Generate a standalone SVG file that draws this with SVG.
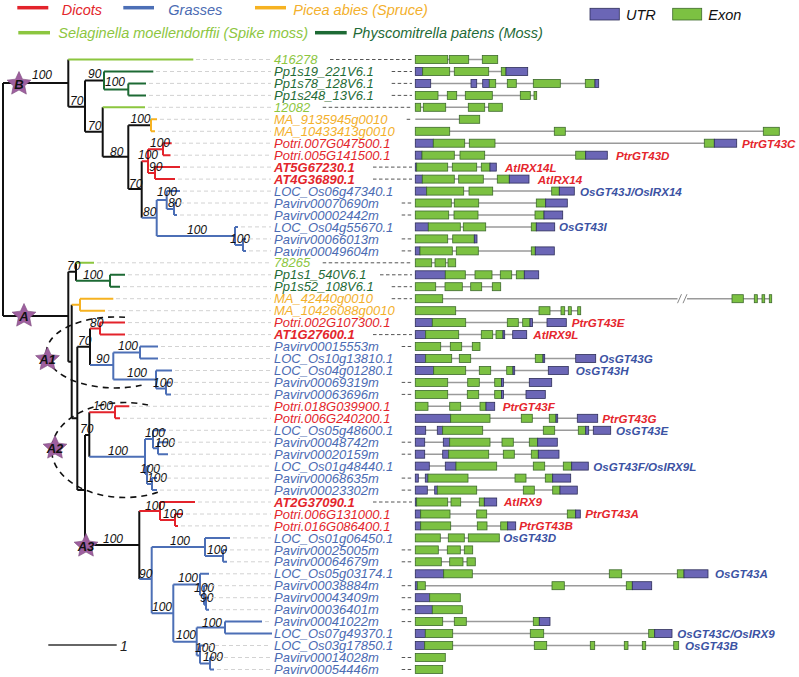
<svg xmlns="http://www.w3.org/2000/svg" width="799" height="677" viewBox="0 0 799 677">
<style>
text{font-family:"Liberation Sans",Arial,sans-serif;font-style:italic}
.t{font-size:13px}
.bd{font-weight:bold}
.bs{font-size:12px;fill:#111}
.lgd{font-size:14.5px}
.gl{font-size:11.6px;font-weight:bold}
.cl{fill:#8dc63f}.cd{fill:#1f6b37}.co{fill:#f3b02c}.cr{fill:#e3262c}.cb{fill:#4b6bb3}
.gr{fill:#e5262d}.gb{fill:#3b52a3}
.e{fill:#7cc142;stroke:#3d6a2c;stroke-width:0.8}
.u{fill:#6b66b6;stroke:#2e2e5a;stroke-width:0.8}
.in{stroke:#9a9a9a;stroke-width:1.5}
.ld{stroke:#d2d2d2;stroke-width:1;stroke-dasharray:4 3}
.dd{stroke:#555;stroke-width:1;stroke-dasharray:3.5 2.5}
.tr{fill:none;stroke-width:2}
.k{stroke:#111}.r{stroke:#e3232b}.b{stroke:#4c6fb6}.o{stroke:#f6b221}.lg{stroke:#8cc63f}.dg{stroke:#1d6a34}
.el{fill:none;stroke:#111;stroke-width:1.6;stroke-dasharray:6 5}
.star{fill:#9e5f9f;stroke:#7a4a7a;stroke-width:0.6}
.sl{font-size:13px;font-weight:bold;fill:#111;text-anchor:middle}
</style>
<defs>
<path id="st" d="M0,-12.5 L3.53,-4.85 L11.89,-3.86 L5.71,1.85 L7.35,10.11 L0,6 L-7.35,10.11 L-5.71,1.85 L-11.89,-3.86 L-3.53,-4.85 Z"/>
</defs>
<rect width="799" height="677" fill="#fff"/>

<g id="legend">
<line x1="17.3" y1="7.7" x2="48.3" y2="7.7" stroke="#e3232b" stroke-width="3.5"/>
<text class="lgd cr" x="61.7" y="14.5">Dicots</text>
<line x1="123.3" y1="7.7" x2="154" y2="7.7" stroke="#4c6fb6" stroke-width="3.5"/>
<text class="lgd cb" x="168.3" y="14.5">Grasses</text>
<line x1="255" y1="7.7" x2="286" y2="7.7" stroke="#f6b221" stroke-width="3.5"/>
<text class="lgd co" x="293.3" y="14.5">Picea abies (Spruce)</text>
<line x1="18.3" y1="32.7" x2="50" y2="32.7" stroke="#8cc63f" stroke-width="3.5"/>
<text class="lgd cl" x="58.3" y="38">Selaginella moellendorffii (Spike moss)</text>
<line x1="315" y1="32.7" x2="346.7" y2="32.7" stroke="#1d6a34" stroke-width="3.5"/>
<text class="lgd cd" x="352.7" y="38">Physcomitrella patens (Moss)</text>
<rect class="u" x="590" y="8.3" width="29.3" height="11.7"/>
<text class="lgd" x="626" y="19.5" fill="#111">UTR</text>
<rect class="e" x="672.7" y="8.3" width="29" height="11.7"/>
<text class="lgd" x="708.3" y="19.5" fill="#111">Exon</text>
</g>

<g id="connectors">
<path class="tr k" d="M3,83.1V316 M3,83.1H68.3 M68.3,59.5V106.7 M68.3,106.7H85 M85,80.5V131.7 M85,80.5H104 M85,131.7H102.7 M102.7,107.3V156.7 M102.7,156.7H128.3 M128.3,125.3V189 M128.3,125.3H151 M128.3,189H141.7 M141.7,161.2V217.7 M3,316H68.3 M68.3,271.7V361.7 M68.3,271.7H76 M76,262.8V280.7 M68.3,361.7H71.7 M71.7,304.7V418.3 M71.7,418.3H77.3 M77.3,346.7V490 M77.3,346.7H90 M90,328.6V365 M77.3,490H85 M85,435V545 M85,435H89.3 M89.3,412.3V456.7 M85,545H139.3 M139.3,511V579"/>
<path class="tr lg" d="M68.3,59.5H193.3 M102.7,107.3H145 M76,262.8H94"/>
<path class="tr dg" d="M104,71.5V89.4 M104,71.5H153.3 M104,89.4H128.3 M128.3,83.4V95.4 M128.3,83.4H146 M128.3,95.4H146 M76,280.7H110 M110,274.8V286.7 M110,274.8H125 M110,286.7H120"/>
<path class="tr o" d="M151,119.3V131.3 M151,119.3H157 M151,131.3H155 M71.7,304.7H80 M80,298.7V310.7 M80,298.7H113.3 M80,310.7H105"/>
<path class="tr r" d="M141.7,161.2H148 M148,149.2V173.1 M148,149.2H163 M163,143.2V155.2 M163,143.2H171.7 M163,155.2H170.5 M148,173.1H155 M155,167.1V179.1 M155,167.1H180 M155,179.1H175 M90,328.6H100 M100,322.6V334.6 M100,322.6H125 M100,334.6H125 M89.3,412.3H115 M115,406.3V418.3 M115,406.3H129.3 M115,418.3H120 M139.3,511H160 M160,502V520 M160,502H195 M160,520H175 M175,514V525.9 M175,514H183 M175,525.9H178"/>
<path class="tr b" d="M141.7,217.7H156.7 M156.7,200V235.9 M156.7,200H166.7 M166.7,191.1V209 M166.7,191.1H180 M166.7,209H174 M174,203V215 M174,203H177 M174,215H177 M156.7,235.9H235 M235,226.9V244.9 M235,226.9H238 M235,244.9H243 M243,238.9V250.9 M243,238.9H246 M243,250.9H246 M90,365H113.3 M113.3,352.5V379.4 M113.3,352.5H140 M140,346.5V358.5 M140,346.5H158 M140,358.5H158 M113.3,379.4H156 M156,370.5V388.4 M156,370.5H172 M156,388.4H166 M166,382.4V394.4 M166,382.4H171 M166,394.4H171 M89.3,456.7H145 M145,439V474 M145,439H153 M153,430.3V448.2 M153,430.3H166 M153,448.2H158 M158,442.2V454.2 M158,442.2H168 M158,454.2H168 M145,474H147 M147,466.1V484.1 M147,466.1H150 M147,484.1H152 M152,478.1V490.1 M152,478.1H157 M152,490.1H157 M139.3,579H151.7 M151.7,546.9V613.3 M151.7,546.9H205 M205,537.9V555.9 M205,537.9H230 M205,555.9H223 M223,549.9V561.8 M223,549.9H227 M223,561.8H227 M151.7,613.3H173.3 M173.3,584.5V641.7 M173.3,584.5H200 M200,573.8V595.2 M200,573.8H209 M200,595.2H204 M204,585.7V604.7 M204,585.7H208 M204,604.7H206 M206,597.7V609.7 M206,597.7H209 M206,609.7H209 M173.3,641.7H196.7 M196.7,627.6V655.6 M196.7,627.6H225 M225,621.6V633.6 M225,621.6H262 M225,633.6H272 M196.7,655.6H200 M200,645.5V663.5 M200,645.5H205 M200,663.5H210 M210,657.5V669.5 M210,657.5H214 M210,669.5H214"/>
<path class="el" d="M125,317.3 A69,35.5 0 1 0 142,385.2"/>
<path class="el" d="M148,405 A73,47.5 0 1 0 160,491.6"/>
</g>

<g id="bootstrap">
<text class="bs" x="32" y="79">100</text>
<text class="bs" x="88" y="78">90</text>
<text class="bs" x="105" y="86">100</text>
<text class="bs" x="70" y="104.5">70</text>
<text class="bs" x="88" y="129.5">70</text>
<text class="bs" x="130.5" y="122.5">100</text>
<text class="bs" x="110" y="155.5">80</text>
<text class="bs" x="150" y="146.5">100</text>
<text class="bs" x="138" y="159">100</text>
<text class="bs" x="149" y="171">90</text>
<text class="bs" x="129" y="188">70</text>
<text class="bs" x="157" y="196">100</text>
<text class="bs" x="168" y="206.5">80</text>
<text class="bs" x="143" y="216">80</text>
<text class="bs" x="187" y="233.5">100</text>
<text class="bs" x="230" y="243">100</text>
<text class="bs" x="67" y="270">70</text>
<text class="bs" x="83" y="278.5">100</text>
<text class="bs" x="90" y="326.5">80</text>
<text class="bs" x="78" y="345">70</text>
<text class="bs" x="118" y="350">100</text>
<text class="bs" x="96" y="363">90</text>
<text class="bs" x="127" y="377">100</text>
<text class="bs" x="153" y="386.5">100</text>
<text class="bs" x="93" y="409.5">100</text>
<text class="bs" x="80" y="432.5">70</text>
<text class="bs" x="145" y="436.5">100</text>
<text class="bs" x="155" y="446.5">100</text>
<text class="bs" x="108" y="454.5">100</text>
<text class="bs" x="140" y="472.5">100</text>
<text class="bs" x="147" y="481.5">100</text>
<text class="bs" x="145" y="509.5">100</text>
<text class="bs" x="163" y="517.5">100</text>
<text class="bs" x="103" y="542.5">100</text>
<text class="bs" x="170" y="544.5">100</text>
<text class="bs" x="207" y="554">100</text>
<text class="bs" x="139" y="577.5">90</text>
<text class="bs" x="178" y="582">100</text>
<text class="bs" x="194" y="591.5">100</text>
<text class="bs" x="200" y="601.5">90</text>
<text class="bs" x="152" y="610.5">100</text>
<text class="bs" x="202" y="626.5">100</text>
<text class="bs" x="176" y="639">100</text>
<text class="bs" x="195" y="651.5">100</text>
<text class="bs" x="203" y="661">100</text>
</g>

<g id="scale">
<line x1="48.3" y1="645" x2="116.7" y2="645" stroke="#333" stroke-width="1.5"/>
<text x="120" y="650.5" font-size="14" fill="#222">1</text>
</g>

<g id="star-B"><use href="#st" class="star" transform="translate(19,84)"/><text class="sl" x="19" y="88.5">B</text></g>
<g id="star-A"><use href="#st" class="star" transform="translate(24,316)"/><text class="sl" x="24" y="320.5">A</text></g>
<g id="star-A1"><use href="#st" class="star" transform="translate(47.5,359.5)"/><text class="sl" x="47.5" y="364">A1</text></g>
<g id="star-A2"><use href="#st" class="star" transform="translate(55,448)"/><text class="sl" x="55" y="452.5">A2</text></g>
<g id="star-A3"><use href="#st" class="star" transform="translate(86,546)"/><text class="sl" x="86" y="550.5">A3</text></g>

<g id="n1" transform="translate(0,59.5)"><line class="ld" x1="196" x2="271"/><text class="t cl" x="274" y="4.6">416278</text><line class="dd" x1="330" x2="412"/><line class="in" x1="415.3" x2="497.7"/><rect class="e" x="415.3" y="-4" width="32.4" height="8"/><rect class="e" x="449.3" y="-4" width="19.4" height="8"/><rect class="e" x="482.3" y="-4" width="15.4" height="8"/></g>
<g id="n2" transform="translate(0,71.5)"><line class="ld" x1="156" x2="271"/><text class="t cd" x="274" y="4.6">Pp1s19_221V6.1</text><line class="dd" x1="391.7" x2="412"/><line class="in" x1="415.3" x2="527.7"/><rect class="u" x="415.3" y="-4" width="7.4" height="8"/><rect class="e" x="422.7" y="-4" width="27" height="8"/><rect class="e" x="454.3" y="-4" width="34.4" height="8"/><rect class="e" x="501.3" y="-4" width="4.7" height="8"/><rect class="u" x="506" y="-4" width="21.7" height="8"/></g>
<g id="n3" transform="translate(0,83.4)"><line class="ld" x1="149" x2="271"/><text class="t cd" x="274" y="4.6">Pp1s78_128V6.1</text><line class="dd" x1="391.7" x2="412"/><line class="in" x1="415.3" x2="598.7"/><rect class="u" x="415.3" y="-4" width="15.4" height="8"/><rect class="u" x="471" y="-4" width="5.7" height="8"/><rect class="u" x="482.7" y="-4" width="6.6" height="8"/><rect class="e" x="489.3" y="-4" width="6.4" height="8"/><rect class="e" x="507.3" y="-4" width="9" height="8"/><rect class="e" x="533.3" y="-4" width="27" height="8"/><rect class="e" x="585.3" y="-4" width="9.7" height="8"/><rect class="u" x="595" y="-4" width="3.7" height="8"/></g>
<g id="n4" transform="translate(0,95.4)"><line class="ld" x1="149" x2="271"/><text class="t cd" x="274" y="4.6">Pp1s248_13V6.1</text><line class="dd" x1="391.7" x2="412"/><line class="in" x1="415.3" x2="536.7"/><rect class="e" x="415.3" y="-4" width="22.7" height="8"/><rect class="e" x="447.3" y="-4" width="9.4" height="8"/><rect class="e" x="465.3" y="-4" width="27" height="8"/><rect class="e" x="520.3" y="-4" width="10" height="8"/><rect class="e" x="534" y="-4" width="2.7" height="8"/></g>
<g id="n5" transform="translate(0,107.3)"><line class="ld" x1="148" x2="271"/><text class="t cl" x="274" y="4.6">12082</text><line class="dd" x1="322.7" x2="412"/><line class="in" x1="415.3" x2="502.3"/><rect class="e" x="415.3" y="-4" width="5.4" height="8"/><rect class="e" x="423.3" y="-4" width="22.4" height="8"/><rect class="e" x="468.3" y="-4" width="16.4" height="8"/><rect class="e" x="488.7" y="-4" width="13.6" height="8"/></g>
<g id="n6" transform="translate(0,119.3)"><line class="ld" x1="160" x2="271"/><text class="t co" x="274" y="4.6">MA_9135945g0010</text><line class="dd" x1="406.7" x2="410.5"/><line class="in" x1="415.3" x2="479.7"/><rect class="e" x="459.3" y="-4" width="20.4" height="8"/></g>
<g id="n7" transform="translate(0,131.3)"><line class="ld" x1="158" x2="271"/><text class="t co" x="274" y="4.6">MA_10433413g0010</text><line class="in" x1="415.3" x2="779.3"/><rect class="e" x="415.3" y="-4" width="34.4" height="8"/><rect class="e" x="554.3" y="-4" width="11" height="8"/><rect class="e" x="763.3" y="-4" width="16" height="8"/></g>
<g id="n8" transform="translate(0,143.2)"><line class="ld" x1="175" x2="271"/><text class="t cr" x="274" y="4.6">Potri.007G047500.1</text><line class="in" x1="415.3" x2="736.7"/><rect class="u" x="415.3" y="-4" width="18" height="8"/><rect class="e" x="433.3" y="-4" width="31.4" height="8"/><rect class="e" x="469.3" y="-4" width="25.7" height="8"/><rect class="e" x="704.3" y="-4" width="10" height="8"/><rect class="u" x="714.3" y="-4" width="22.4" height="8"/><text class="gl gr" x="742" y="4.4">PtrGT43C</text></g>
<g id="n9" transform="translate(0,155.2)"><line class="ld" x1="174" x2="271"/><text class="t cr" x="274" y="4.6">Potri.005G141500.1</text><line class="in" x1="415.3" x2="607.3"/><rect class="u" x="415.3" y="-4" width="6.7" height="8"/><rect class="e" x="422" y="-4" width="32.3" height="8"/><rect class="e" x="460" y="-4" width="24.7" height="8"/><rect class="e" x="575.7" y="-4" width="10" height="8"/><rect class="u" x="585.7" y="-4" width="21.6" height="8"/><text class="gl gr" x="616" y="4.4">PtrGT43D</text></g>
<g id="n10" transform="translate(0,167.1)"><line class="ld" x1="183" x2="271"/><text class="t cr bd" x="274" y="4.6">AT5G67230.1</text><line class="dd" x1="373" x2="412"/><line class="in" x1="415.3" x2="496.3"/><rect class="u" x="415.3" y="-4" width="1.4" height="8"/><rect class="e" x="416.7" y="-4" width="31" height="8"/><rect class="e" x="452.3" y="-4" width="24.4" height="8"/><rect class="e" x="481.3" y="-4" width="8.7" height="8"/><rect class="u" x="490" y="-4" width="6.3" height="8"/><text class="gl gr" x="505" y="4.4">AtIRX14L</text></g>
<g id="n11" transform="translate(0,179.1)"><line class="ld" x1="178" x2="271"/><text class="t cr bd" x="274" y="4.6">AT4G36890.1</text><line class="dd" x1="373" x2="412"/><line class="in" x1="415.3" x2="529"/><rect class="u" x="415.3" y="-4" width="7" height="8"/><rect class="e" x="422.3" y="-4" width="32" height="8"/><rect class="e" x="458.7" y="-4" width="24.6" height="8"/><rect class="e" x="497.3" y="-4" width="12" height="8"/><rect class="u" x="509.3" y="-4" width="19.7" height="8"/><text class="gl gr" x="537.7" y="4.4">AtIRX14</text></g>
<g id="n12" transform="translate(0,191.1)"><line class="ld" x1="183" x2="271"/><text class="t cb" x="274" y="4.6">LOC_Os06g47340.1</text><line class="in" x1="415.3" x2="574.3"/><rect class="u" x="415.3" y="-4" width="11.4" height="8"/><rect class="e" x="426.7" y="-4" width="37" height="8"/><rect class="e" x="469" y="-4" width="23.7" height="8"/><rect class="e" x="551.7" y="-4" width="7.6" height="8"/><rect class="u" x="559.3" y="-4" width="15" height="8"/><text class="gl gb" x="580" y="4.4">OsGT43J/OsIRX14</text></g>
<g id="n13" transform="translate(0,203)"><line class="ld" x1="180" x2="271"/><text class="t cb" x="274" y="4.6">Pavirv00070690m</text><line class="dd" x1="401.7" x2="412"/><line class="in" x1="415.3" x2="567.3"/><rect class="e" x="415.3" y="-4" width="36" height="8"/><rect class="e" x="454.3" y="-4" width="24.4" height="8"/><rect class="e" x="536.3" y="-4" width="9.4" height="8"/><rect class="u" x="545.7" y="-4" width="21.6" height="8"/></g>
<g id="n14" transform="translate(0,215)"><line class="ld" x1="180" x2="271"/><text class="t cb" x="274" y="4.6">Pavirv00002442m</text><line class="dd" x1="401.7" x2="412"/><line class="in" x1="415.3" x2="562.7"/><rect class="e" x="415.3" y="-4" width="33.4" height="8"/><rect class="e" x="454" y="-4" width="24" height="8"/><rect class="e" x="535" y="-4" width="9" height="8"/><rect class="u" x="544" y="-4" width="18.7" height="8"/></g>
<g id="n15" transform="translate(0,226.9)"><line class="ld" x1="241" x2="271"/><text class="t cb" x="274" y="4.6">LOC_Os04g55670.1</text><line class="in" x1="415.3" x2="554.7"/><rect class="u" x="415.3" y="-4" width="13" height="8"/><rect class="e" x="428.3" y="-4" width="32" height="8"/><rect class="e" x="463.3" y="-4" width="22.4" height="8"/><rect class="e" x="531.3" y="-4" width="5" height="8"/><rect class="u" x="536.3" y="-4" width="18.4" height="8"/><text class="gl gb" x="559" y="4.4">OsGT43I</text></g>
<g id="n16" transform="translate(0,238.9)"><line class="ld" x1="249" x2="271"/><text class="t cb" x="274" y="4.6">Pavirv00066013m</text><line class="dd" x1="401.7" x2="412"/><line class="in" x1="415.3" x2="477"/><rect class="e" x="415.3" y="-4" width="32.4" height="8"/><rect class="e" x="452.7" y="-4" width="21.6" height="8"/><rect class="u" x="474.3" y="-4" width="2.7" height="8"/></g>
<g id="n17" transform="translate(0,250.9)"><line class="ld" x1="249" x2="271"/><text class="t cb" x="274" y="4.6">Pavirv00049604m</text><line class="dd" x1="401.7" x2="412"/><line class="in" x1="415.3" x2="554.3"/><rect class="u" x="415.3" y="-4" width="4.7" height="8"/><rect class="e" x="420" y="-4" width="32.3" height="8"/><rect class="e" x="456.3" y="-4" width="22" height="8"/><rect class="e" x="531.3" y="-4" width="4" height="8"/><rect class="u" x="535.3" y="-4" width="19" height="8"/></g>
<g id="n18" transform="translate(0,262.8)"><line class="ld" x1="97" x2="271"/><text class="t cl" x="274" y="4.6">78265</text><line class="dd" x1="322.7" x2="412"/><line class="in" x1="415.3" x2="455.7"/><rect class="e" x="415.3" y="-4" width="16.4" height="8"/><rect class="e" x="435" y="-4" width="10.7" height="8"/><rect class="e" x="448" y="-4" width="7.7" height="8"/></g>
<g id="n19" transform="translate(0,274.8)"><line class="ld" x1="128" x2="271"/><text class="t cd" x="274" y="4.6">Pp1s1_540V6.1</text><line class="dd" x1="380" x2="412"/><line class="in" x1="415.3" x2="538.7"/><rect class="u" x="415.3" y="-4" width="30" height="8"/><rect class="e" x="445.3" y="-4" width="20" height="8"/><rect class="e" x="475" y="-4" width="17" height="8"/><rect class="e" x="500.3" y="-4" width="11.4" height="8"/><rect class="e" x="516.3" y="-4" width="8" height="8"/><rect class="u" x="524.3" y="-4" width="14.4" height="8"/></g>
<g id="n20" transform="translate(0,286.7)"><line class="ld" x1="123" x2="271"/><text class="t cd" x="274" y="4.6">Pp1s52_108V6.1</text><line class="dd" x1="391.7" x2="412"/><line class="in" x1="415.3" x2="500.7"/><rect class="e" x="415.3" y="-4" width="20.4" height="8"/><rect class="e" x="445" y="-4" width="17.3" height="8"/><rect class="e" x="470.7" y="-4" width="11" height="8"/><rect class="e" x="492.3" y="-4" width="8.4" height="8"/></g>
<g id="n21" transform="translate(0,298.7)"><line class="ld" x1="116" x2="271"/><text class="t co" x="274" y="4.6">MA_42440g0010</text><line class="dd" x1="391.7" x2="412"/><line class="in" x1="415.3" x2="771.7"/><rect x="677.5" y="-3" width="9.5" height="6" fill="#fff"/><path d="M677.5,4.5L681.5,-4.5M683,4.5L687,-4.5" stroke="#888" stroke-width="1"/><rect class="e" x="415.3" y="-4" width="27.4" height="8"/><rect class="e" x="732" y="-4" width="11.3" height="8"/><rect class="e" x="754.3" y="-4" width="3" height="8"/><rect class="e" x="762" y="-4" width="2.7" height="8"/><rect class="e" x="769.3" y="-4" width="2.4" height="8"/></g>
<g id="n22" transform="translate(0,310.7)"><line class="ld" x1="108" x2="271"/><text class="t co" x="274" y="4.6">MA_10426088g0010</text><line class="in" x1="415.3" x2="580.7"/><rect class="e" x="415.3" y="-4" width="40.4" height="8"/><rect class="e" x="539" y="-4" width="11" height="8"/><rect class="e" x="561" y="-4" width="3.7" height="8"/><rect class="e" x="568.3" y="-4" width="3" height="8"/><rect class="e" x="577.7" y="-4" width="3" height="8"/></g>
<g id="n23" transform="translate(0,322.6)"><line class="ld" x1="128" x2="271"/><text class="t cr" x="274" y="4.6">Potri.002G107300.1</text><line class="in" x1="415.3" x2="566.3"/><rect class="u" x="415.3" y="-4" width="17" height="8"/><rect class="e" x="432.3" y="-4" width="33.4" height="8"/><rect class="e" x="507.3" y="-4" width="11" height="8"/><rect class="e" x="522.7" y="-4" width="7.3" height="8"/><rect class="u" x="530" y="-4" width="2.5" height="8"/><rect class="u" x="547" y="-4" width="19.3" height="8"/><text class="gl gr" x="571.7" y="4.4">PtrGT43E</text></g>
<g id="n24" transform="translate(0,334.6)"><line class="ld" x1="128" x2="271"/><text class="t cr bd" x="274" y="4.6">AT1G27600.1</text><line class="dd" x1="373" x2="412"/><line class="in" x1="415.3" x2="526.7"/><rect class="u" x="415.3" y="-4" width="10.4" height="8"/><rect class="e" x="425.7" y="-4" width="33" height="8"/><rect class="e" x="481.3" y="-4" width="11.4" height="8"/><rect class="e" x="496" y="-4" width="7" height="8"/><rect class="u" x="503" y="-4" width="1.7" height="8"/><rect class="u" x="512.7" y="-4" width="14" height="8"/><text class="gl gr" x="533.3" y="4.4">AtIRX9L</text></g>
<g id="n25" transform="translate(0,346.5)"><line class="ld" x1="161" x2="271"/><text class="t cb" x="274" y="4.6">Pavirv00015553m</text><line class="dd" x1="401.7" x2="412"/><line class="in" x1="415.3" x2="480"/><rect class="e" x="415.3" y="-4" width="25.4" height="8"/><rect class="e" x="450.3" y="-4" width="11.4" height="8"/><rect class="e" x="472.3" y="-4" width="7.7" height="8"/></g>
<g id="n26" transform="translate(0,358.5)"><line class="ld" x1="161" x2="271"/><text class="t cb" x="274" y="4.6">LOC_Os10g13810.1</text><line class="in" x1="415.3" x2="595.7"/><rect class="u" x="415.3" y="-4" width="10.4" height="8"/><rect class="e" x="425.7" y="-4" width="26" height="8"/><rect class="e" x="459.3" y="-4" width="11.4" height="8"/><rect class="e" x="535.3" y="-4" width="7.7" height="8"/><rect class="u" x="543" y="-4" width="1.7" height="8"/><rect class="u" x="575.7" y="-4" width="20" height="8"/><text class="gl gb" x="599.3" y="4.4">OsGT43G</text></g>
<g id="n27" transform="translate(0,370.5)"><line class="ld" x1="175" x2="271"/><text class="t cb" x="274" y="4.6">LOC_Os04g01280.1</text><line class="in" x1="415.3" x2="568.3"/><rect class="u" x="415.3" y="-4" width="18.4" height="8"/><rect class="e" x="433.7" y="-4" width="32" height="8"/><rect class="e" x="479.3" y="-4" width="11.4" height="8"/><rect class="e" x="506.7" y="-4" width="6.3" height="8"/><rect class="u" x="513" y="-4" width="1.7" height="8"/><rect class="u" x="548.3" y="-4" width="20" height="8"/><text class="gl gb" x="575.7" y="4.4">OsGT43H</text></g>
<g id="n28" transform="translate(0,382.4)"><line class="ld" x1="174" x2="271"/><text class="t cb" x="274" y="4.6">Pavirv00069319m</text><line class="dd" x1="401.7" x2="412"/><line class="in" x1="415.3" x2="551.7"/><rect class="e" x="415.3" y="-4" width="32.4" height="8"/><rect class="e" x="467.7" y="-4" width="11.6" height="8"/><rect class="e" x="494.7" y="-4" width="6.8" height="8"/><rect class="u" x="501.5" y="-4" width="2" height="8"/><rect class="u" x="529.3" y="-4" width="22.4" height="8"/></g>
<g id="n29" transform="translate(0,394.4)"><line class="ld" x1="174" x2="271"/><text class="t cb" x="274" y="4.6">Pavirv00063696m</text><line class="dd" x1="401.7" x2="412"/><line class="in" x1="415.3" x2="545.3"/><rect class="e" x="415.3" y="-4" width="32.4" height="8"/><rect class="e" x="467.3" y="-4" width="11.4" height="8"/><rect class="e" x="494.7" y="-4" width="6.8" height="8"/><rect class="u" x="501.5" y="-4" width="2" height="8"/><rect class="u" x="526" y="-4" width="19.3" height="8"/></g>
<g id="n30" transform="translate(0,406.3)"><line class="ld" x1="132" x2="271"/><text class="t cr" x="274" y="4.6">Potri.018G039900.1</text><line class="in" x1="415.3" x2="494.7"/><rect class="e" x="415.3" y="-4" width="12.7" height="8"/><rect class="e" x="449.7" y="-4" width="11" height="8"/><rect class="e" x="480" y="-4" width="6" height="8"/><rect class="u" x="486" y="-4" width="8.7" height="8"/><text class="gl gr" x="502.7" y="4.4">PtrGT43F</text></g>
<g id="n31" transform="translate(0,418.3)"><line class="ld" x1="123" x2="271"/><text class="t cr" x="274" y="4.6">Potri.006G240200.1</text><line class="in" x1="415.3" x2="597.7"/><rect class="u" x="415.3" y="-4" width="35.4" height="8"/><rect class="e" x="450.7" y="-4" width="39.3" height="8"/><rect class="e" x="521.3" y="-4" width="11" height="8"/><rect class="e" x="549.3" y="-4" width="6.7" height="8"/><rect class="u" x="556" y="-4" width="1.7" height="8"/><rect class="u" x="577.3" y="-4" width="20.4" height="8"/><text class="gl gr" x="602.3" y="4.4">PtrGT43G</text></g>
<g id="n32" transform="translate(0,430.3)"><line class="ld" x1="169" x2="271"/><text class="t cb" x="274" y="4.6">LOC_Os05g48600.1</text><line class="in" x1="415.3" x2="610.7"/><rect class="u" x="415.3" y="-4" width="10.4" height="8"/><rect class="u" x="437.3" y="-4" width="5.4" height="8"/><rect class="e" x="442.7" y="-4" width="40" height="8"/><rect class="e" x="543.3" y="-4" width="11.4" height="8"/><rect class="e" x="578.3" y="-4" width="7.4" height="8"/><rect class="u" x="585.7" y="-4" width="3" height="8"/><rect class="u" x="593.3" y="-4" width="17.4" height="8"/><text class="gl gb" x="616" y="4.4">OsGT43E</text></g>
<g id="n33" transform="translate(0,442.2)"><line class="ld" x1="171" x2="271"/><text class="t cb" x="274" y="4.6">Pavirv00048742m</text><line class="dd" x1="401.7" x2="412"/><line class="in" x1="415.3" x2="557.3"/><rect class="u" x="415.3" y="-4" width="9.4" height="8"/><rect class="u" x="443.3" y="-4" width="6.4" height="8"/><rect class="e" x="449.7" y="-4" width="40.3" height="8"/><rect class="e" x="502" y="-4" width="11.3" height="8"/><rect class="e" x="529.3" y="-4" width="8.4" height="8"/><rect class="u" x="537.7" y="-4" width="19.6" height="8"/></g>
<g id="n34" transform="translate(0,454.2)"><line class="ld" x1="171" x2="271"/><text class="t cb" x="274" y="4.6">Pavirv00020159m</text><line class="dd" x1="401.7" x2="412"/><line class="in" x1="415.3" x2="559"/><rect class="u" x="415.3" y="-4" width="9.4" height="8"/><rect class="u" x="442.7" y="-4" width="6" height="8"/><rect class="e" x="448.7" y="-4" width="40" height="8"/><rect class="e" x="503.3" y="-4" width="11" height="8"/><rect class="e" x="531.3" y="-4" width="7" height="8"/><rect class="u" x="538.3" y="-4" width="20.7" height="8"/></g>
<g id="n35" transform="translate(0,466.1)"><line class="ld" x1="153" x2="271"/><text class="t cb" x="274" y="4.6">LOC_Os01g48440.1</text><line class="in" x1="415.3" x2="588.3"/><rect class="u" x="415.3" y="-4" width="14" height="8"/><rect class="u" x="445.3" y="-4" width="10.7" height="8"/><rect class="e" x="456" y="-4" width="40.7" height="8"/><rect class="e" x="533.3" y="-4" width="11.4" height="8"/><rect class="e" x="563.3" y="-4" width="8.4" height="8"/><rect class="u" x="571.7" y="-4" width="16.6" height="8"/><text class="gl gb" x="593.3" y="4.4">OsGT43F/OsIRX9L</text></g>
<g id="n36" transform="translate(0,478.1)"><line class="ld" x1="160" x2="271"/><text class="t cb" x="274" y="4.6">Pavirv00068635m</text><line class="dd" x1="401.7" x2="412"/><line class="in" x1="415.3" x2="570.7"/><rect class="u" x="415.3" y="-4" width="3" height="8"/><rect class="u" x="425.3" y="-4" width="2.7" height="8"/><rect class="e" x="428" y="-4" width="40" height="8"/><rect class="e" x="515" y="-4" width="11" height="8"/><rect class="e" x="545.3" y="-4" width="7.4" height="8"/><rect class="u" x="552.7" y="-4" width="18" height="8"/></g>
<g id="n37" transform="translate(0,490.1)"><line class="ld" x1="160" x2="271"/><text class="t cb" x="274" y="4.6">Pavirv00023302m</text><line class="dd" x1="401.7" x2="412"/><line class="in" x1="415.3" x2="577.3"/><rect class="u" x="415.3" y="-4" width="12" height="8"/><rect class="u" x="434.7" y="-4" width="2.6" height="8"/><rect class="e" x="437.3" y="-4" width="39.4" height="8"/><rect class="e" x="523.3" y="-4" width="11" height="8"/><rect class="e" x="552.7" y="-4" width="7.3" height="8"/><rect class="u" x="560" y="-4" width="17.3" height="8"/></g>
<g id="n38" transform="translate(0,502)"><line class="ld" x1="198" x2="271"/><text class="t cr bd" x="274" y="4.6">AT2G37090.1</text><line class="dd" x1="373" x2="412"/><line class="in" x1="415.3" x2="496.7"/><rect class="u" x="415.3" y="-4" width="1.4" height="8"/><rect class="e" x="416.7" y="-4" width="31" height="8"/><rect class="e" x="451" y="-4" width="9.7" height="8"/><rect class="e" x="479.3" y="-4" width="5" height="8"/><rect class="u" x="484.3" y="-4" width="12.4" height="8"/><text class="gl gr" x="504" y="4.4">AtIRX9</text></g>
<g id="n39" transform="translate(0,514)"><line class="ld" x1="186" x2="271"/><text class="t cr" x="274" y="4.6">Potri.006G131000.1</text><line class="in" x1="415.3" x2="580.3"/><rect class="u" x="415.3" y="-4" width="5.4" height="8"/><rect class="e" x="420.7" y="-4" width="29.3" height="8"/><rect class="e" x="476.7" y="-4" width="10" height="8"/><rect class="e" x="567.3" y="-4" width="8.4" height="8"/><rect class="u" x="575.7" y="-4" width="4.6" height="8"/><text class="gl gr" x="585.3" y="4.4">PtrGT43A</text></g>
<g id="n40" transform="translate(0,525.9)"><line class="ld" x1="181" x2="271"/><text class="t cr" x="274" y="4.6">Potri.016G086400.1</text><line class="in" x1="415.3" x2="515.7"/><rect class="u" x="415.3" y="-4" width="5.4" height="8"/><rect class="e" x="420.7" y="-4" width="30" height="8"/><rect class="e" x="477.3" y="-4" width="9.7" height="8"/><rect class="e" x="500.7" y="-4" width="7" height="8"/><rect class="u" x="507.7" y="-4" width="8" height="8"/><text class="gl gr" x="519.3" y="4.4">PtrGT43B</text></g>
<g id="n41" transform="translate(0,537.9)"><line class="ld" x1="233" x2="271"/><text class="t cb" x="274" y="4.6">LOC_Os01g06450.1</text><line class="in" x1="415.3" x2="499.3"/><rect class="e" x="415.3" y="-4" width="25" height="8"/><rect class="e" x="448.3" y="-4" width="16" height="8"/><rect class="e" x="468.3" y="-4" width="31" height="8"/><text class="gl gb" x="503.3" y="4.4">OsGT43D</text></g>
<g id="n42" transform="translate(0,549.9)"><line class="ld" x1="230" x2="271"/><text class="t cb" x="274" y="4.6">Pavirv00025005m</text><line class="dd" x1="401.7" x2="412"/><line class="in" x1="415.3" x2="472.7"/><rect class="e" x="415.3" y="-4" width="23" height="8"/><rect class="e" x="447.3" y="-4" width="13" height="8"/><rect class="e" x="464.3" y="-4" width="8.4" height="8"/></g>
<g id="n43" transform="translate(0,561.8)"><line class="ld" x1="230" x2="271"/><text class="t cb" x="274" y="4.6">Pavirv00064679m</text><line class="dd" x1="401.7" x2="412"/><line class="in" x1="415.3" x2="475.3"/><rect class="e" x="415.3" y="-4" width="26" height="8"/><rect class="e" x="449.7" y="-4" width="13.3" height="8"/><rect class="e" x="467" y="-4" width="8.3" height="8"/></g>
<g id="n44" transform="translate(0,573.8)"><line class="ld" x1="212" x2="271"/><text class="t cb" x="274" y="4.6">LOC_Os05g03174.1</text><line class="in" x1="415.3" x2="708"/><rect class="u" x="415.3" y="-4" width="28.4" height="8"/><rect class="e" x="443.7" y="-4" width="28.6" height="8"/><rect class="e" x="609.3" y="-4" width="12.4" height="8"/><rect class="e" x="677.3" y="-4" width="6.7" height="8"/><rect class="u" x="684" y="-4" width="24" height="8"/><text class="gl gb" x="715" y="4.4">OsGT43A</text></g>
<g id="n45" transform="translate(0,585.7)"><line class="ld" x1="211" x2="271"/><text class="t cb" x="274" y="4.6">Pavirv00038884m</text><line class="dd" x1="401.7" x2="412"/><line class="in" x1="415.3" x2="651.7"/><rect class="u" x="415.3" y="-4" width="2" height="8"/><rect class="e" x="417.3" y="-4" width="8" height="8"/><rect class="e" x="552" y="-4" width="12.3" height="8"/><rect class="e" x="626.3" y="-4" width="6" height="8"/><rect class="u" x="632.3" y="-4" width="19.4" height="8"/></g>
<g id="n46" transform="translate(0,597.7)"><line class="ld" x1="212" x2="271"/><text class="t cb" x="274" y="4.6">Pavirv00043409m</text><line class="dd" x1="401.7" x2="412"/><rect class="u" x="415.3" y="-4" width="14.4" height="8"/><rect class="e" x="429.7" y="-4" width="30.6" height="8"/></g>
<g id="n47" transform="translate(0,609.7)"><line class="ld" x1="212" x2="271"/><text class="t cb" x="274" y="4.6">Pavirv00036401m</text><line class="dd" x1="401.7" x2="412"/><rect class="u" x="415.3" y="-4" width="17" height="8"/><rect class="e" x="432.3" y="-4" width="30" height="8"/></g>
<g id="n48" transform="translate(0,621.6)"><line class="ld" x1="265" x2="271"/><text class="t cb" x="274" y="4.6">Pavirv00041022m</text><line class="dd" x1="401.7" x2="412"/><line class="in" x1="415.3" x2="550"/><rect class="e" x="415.3" y="-4" width="27.4" height="8"/><rect class="e" x="454.3" y="-4" width="12" height="8"/><rect class="e" x="533.3" y="-4" width="6" height="8"/><rect class="u" x="539.3" y="-4" width="10.7" height="8"/></g>
<g id="n49" transform="translate(0,633.6)"><text class="t cb" x="274" y="4.6">LOC_Os07g49370.1</text><line class="in" x1="415.3" x2="672"/><rect class="u" x="415.3" y="-4" width="10" height="8"/><rect class="e" x="425.3" y="-4" width="27.4" height="8"/><rect class="e" x="530.3" y="-4" width="13.4" height="8"/><rect class="e" x="648.7" y="-4" width="6" height="8"/><rect class="u" x="654.7" y="-4" width="17.3" height="8"/><text class="gl gb" x="677.3" y="4.4">OsGT43C/OsIRX9</text></g>
<g id="n50" transform="translate(0,645.5)"><line class="ld" x1="208" x2="271"/><text class="t cb" x="274" y="4.6">LOC_Os03g17850.1</text><line class="in" x1="415.3" x2="678.7"/><rect class="u" x="415.3" y="-4" width="9.4" height="8"/><rect class="e" x="424.7" y="-4" width="28" height="8"/><rect class="e" x="534.3" y="-4" width="12.4" height="8"/><rect class="e" x="590.3" y="-4" width="4.4" height="8"/><rect class="e" x="624.3" y="-4" width="3.7" height="8"/><rect class="e" x="642.3" y="-4" width="3.4" height="8"/><rect class="e" x="673.7" y="-4" width="5" height="8"/><text class="gl gb" x="685" y="4.4">OsGT43B</text></g>
<g id="n51" transform="translate(0,657.5)"><line class="ld" x1="217" x2="271"/><text class="t cb" x="274" y="4.6">Pavirv00014028m</text><line class="dd" x1="401.7" x2="412"/><rect class="e" x="415.3" y="-4" width="30" height="8"/></g>
<g id="n52" transform="translate(0,669.5)"><line class="ld" x1="217" x2="271"/><text class="t cb" x="274" y="4.6">Pavirv00054446m</text><line class="dd" x1="401.7" x2="412"/><rect class="e" x="415.3" y="-4" width="27.4" height="8"/></g>
</svg>
